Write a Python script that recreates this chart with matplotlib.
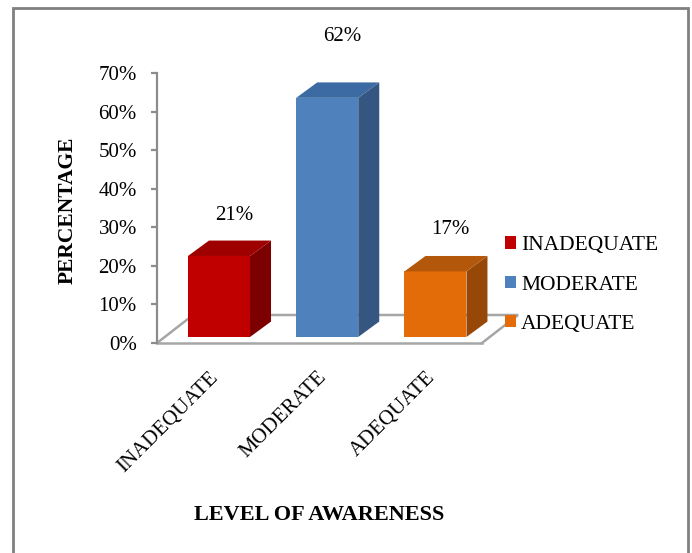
import matplotlib
matplotlib.use("Agg")
import matplotlib.pyplot as plt
from matplotlib.patches import Polygon, Rectangle, Patch
from matplotlib.transforms import ScaledTranslation

plt.rcParams['font.family'] = ['Liberation Serif', 'DejaVu Serif']

# ---- data ----
categories = ["INADEQUATE", "MODERATE", "ADEQUATE"]
values = [21, 62, 17]
value_labels = ["21%", "62%", "17%"]
yticks = [0, 10, 20, 30, 40, 50, 60, 70]
ytick_labels = ["0%", "10%", "20%", "30%", "40%", "50%", "60%", "70%"]

# ---- style ----
front_colors = ["#C00000", "#4F81BD", "#E36C09"]
top_colors = ["#9E0000", "#3C6AA3", "#B3570A"]
side_colors = ["#7D0000", "#345680", "#984806"]
label_offsets_pt = [11, 26, 12]
gray = "#8C8C8C"

W, H = 692, 553
fig = plt.figure(figsize=(W / 100, H / 100), dpi=100)

# outer border
fig.patches.append(Rectangle((13 / W, -0.02), (688 - 13) / W, 1 - 8 / H + 0.02,
                             transform=fig.transFigure, fill=False,
                             edgecolor="#808080", linewidth=2.0))

ax = fig.add_axes([157 / W, 1 - 343 / H, (482 - 157) / W, 270 / H])
ax.patch.set_alpha(0)
x0, x1 = -0.573, 2.43
ax.set_xlim(x0, x1)
ax.set_ylim(0, 70)

# 3-D geometry (data units)
bar_w = 0.573
base = 1.56
sdx, sdy = 0.194, 4.0
fdx, fdy = 0.333, 7.26

# floor
ax.plot([x0, x0 + fdx, x1 + fdx, x1], [0, fdy, fdy, 0], color="#A6A6A6",
        lw=1.8, clip_on=False, zorder=1, solid_joinstyle='miter')
ax.plot([x0, x1], [0, 0], color="#A6A6A6", lw=1.8, clip_on=False, zorder=1)

for i, v in enumerate(values):
    l = i - bar_w / 2
    r = i + bar_w / 2
    b = base
    t = v + base
    ax.bar(i, v, width=bar_w, bottom=base, color=front_colors[i], zorder=3,
           linewidth=0, clip_on=False)
    ax.add_patch(Polygon([(r, b), (r + sdx, b + sdy), (r + sdx, t + sdy), (r, t)],
                         closed=True, facecolor=side_colors[i], edgecolor="none",
                         zorder=3, clip_on=False))
    ax.add_patch(Polygon([(l, t), (r, t), (r + sdx, t + sdy), (l + sdx, t + sdy)],
                         closed=True, facecolor=top_colors[i], edgecolor="none",
                         zorder=3, clip_on=False))
    ax.annotate(value_labels[i], (i + 0.14, t + sdy),
                xytext=(0, label_offsets_pt[i]), textcoords="offset points",
                ha="center", va="bottom", fontsize=15, annotation_clip=False)

# axes styling
for s in ["top", "right", "bottom"]:
    ax.spines[s].set_visible(False)
ax.spines["left"].set_color(gray)
ax.spines["left"].set_linewidth(1.6)
ax.set_yticks(yticks)
ax.set_yticklabels(ytick_labels, fontsize=15)
ax.tick_params(axis="y", length=4.5, width=1.6, color=gray, pad=10)
ax.set_xticks(range(len(categories)))
ax.set_xticklabels(categories, fontsize=15, rotation=45, ha="right",
                   va="top", rotation_mode="anchor")
ax.tick_params(axis="x", length=0, pad=18)
shift = ScaledTranslation(-10 / 100, 0, fig.dpi_scale_trans)
for lab in ax.get_xticklabels():
    lab.set_transform(lab.get_transform() + shift)

fig.text(68 / W, 1 - 210 / H, "PERCENTAGE", rotation=90, ha="center",
         va="center", fontsize=15.5, fontweight="bold")
fig.text(319 / W, 1 - 515 / H, "LEVEL OF AWARENESS", ha="center",
         va="center", fontsize=16, fontweight="bold")

handles = [Patch(facecolor=c, edgecolor="none") for c in front_colors]
fig.legend(handles, categories, loc="center left",
           bbox_to_anchor=(505 / W, 1 - 285 / H), frameon=False, fontsize=15.5,
           handlelength=0.5, handleheight=0.5, handletextpad=0.25,
           labelspacing=0.95, borderpad=0, borderaxespad=0)

fig.savefig("out.png", dpi=100)
